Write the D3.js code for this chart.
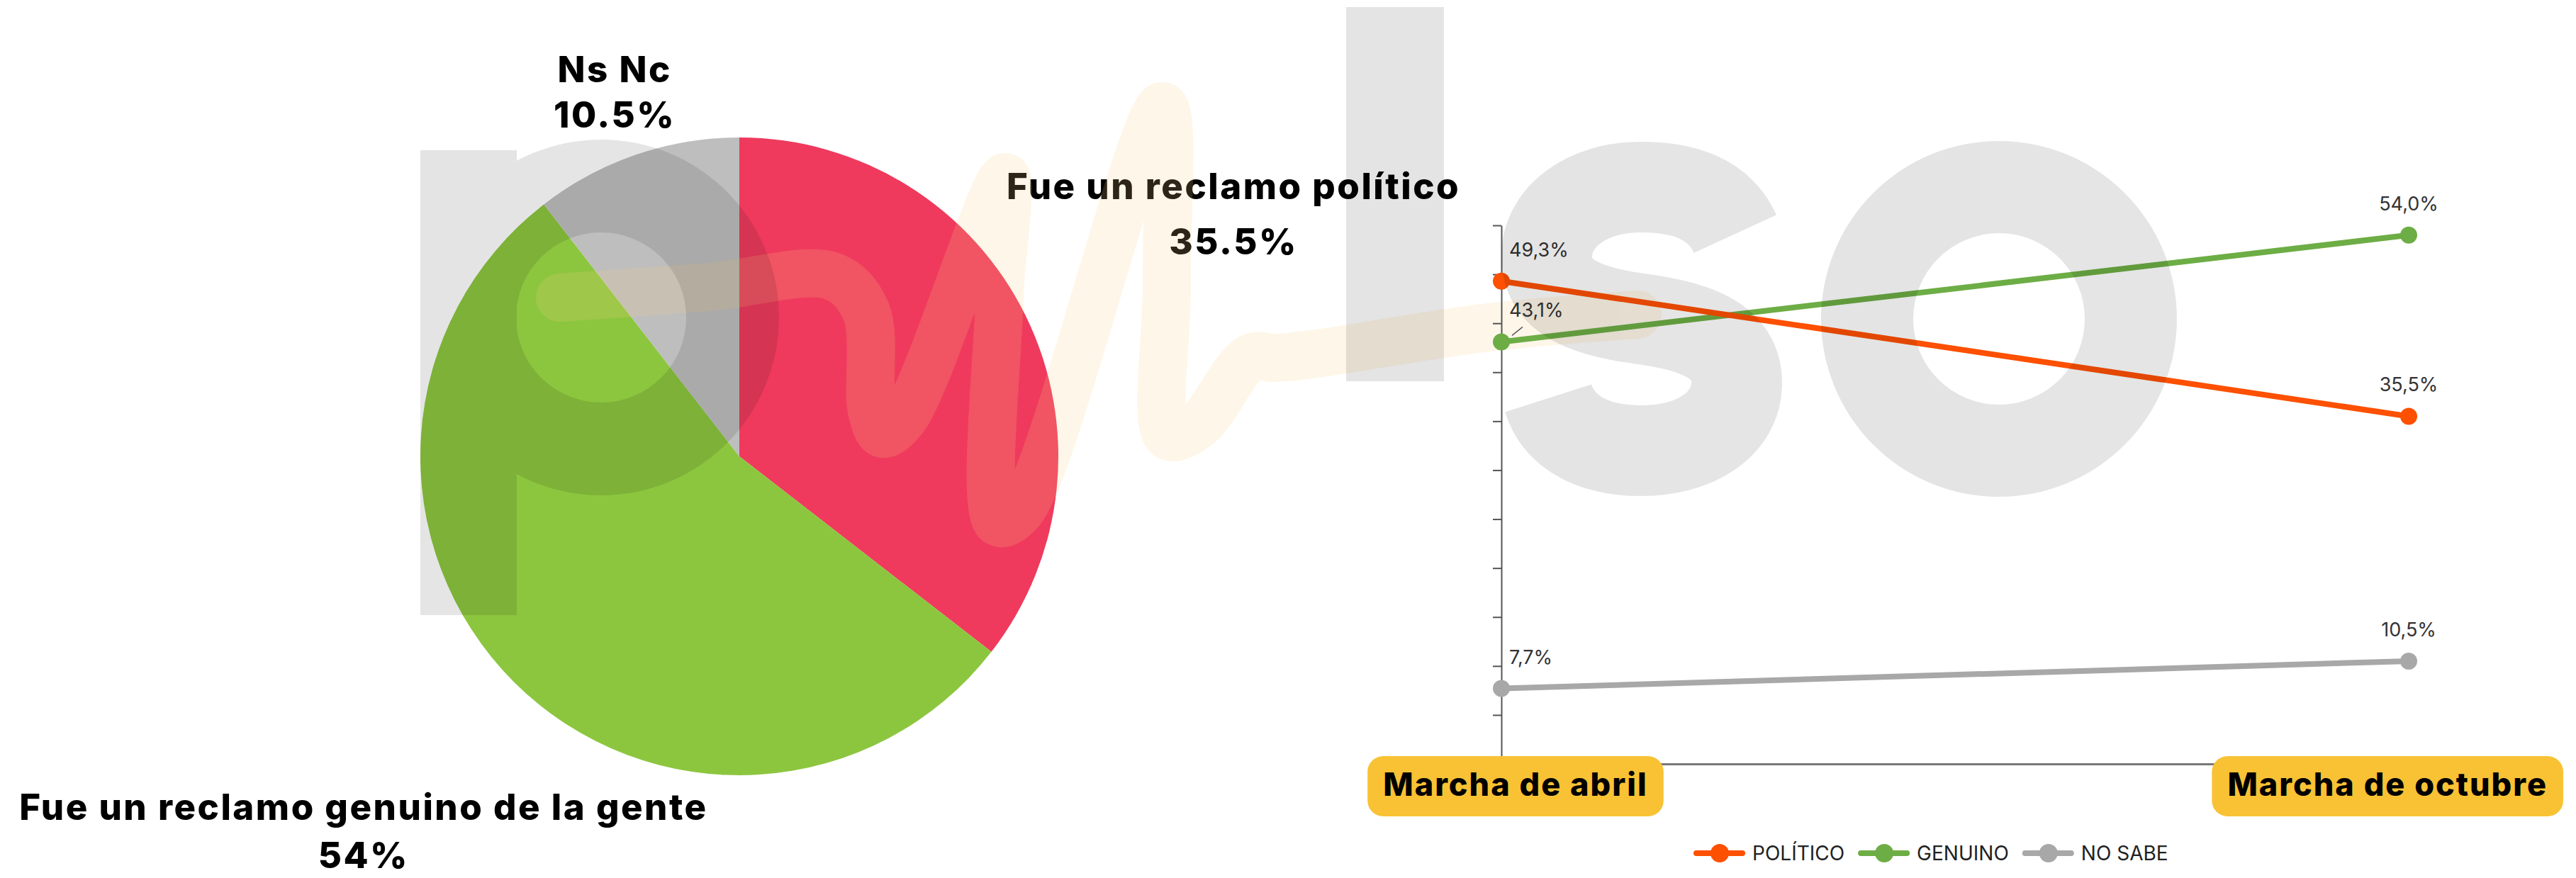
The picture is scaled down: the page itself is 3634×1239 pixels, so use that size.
<!DOCTYPE html>
<html>
<head>
<meta charset="utf-8">
<script src="https://cdn.jsdelivr.net/npm/d3@7"></script>
<style>
  html, body { margin: 0; padding: 0; background: #fff; }
  svg { display: block; }
</style>
</head>
<body>
<div id="chart"></div>
<script>
// pie: how people saw the october march
var pieNames = ["Fue un reclamo político", "Fue un reclamo genuino de la gente", "Ns Nc"];
var pieValues = [35.5, 54, 10.5];
var pieColors = ["#ef3a5d", "#8cc63f", "#bebebe"];

// line chart: april vs october
var marchas = ["Marcha de abril", "Marcha de octubre"];
var seriesNames = ["POLÍTICO", "GENUINO", "NO SABE"];
var politico = [49.3, 35.5];
var genuino = [43.1, 54.0];
var noSabe = [7.7, 10.5];
var lineColors = ["#fd5000", "#6dad45", "#a8a8a8"];
var yTicks = [0, 5, 10, 15, 20, 25, 30, 35, 40, 45, 50, 55];

var W = 3634, H = 1239;
var boldFont = "Inter, 'Noto Sans', sans-serif";

var svg = d3.select("#chart").append("svg")
    .attr("width", W)
    .attr("height", H);
svg.append("rect").attr("width", W).attr("height", H).attr("fill", "#fff");

// ---- pie ----
var R = 450;
var pieG = svg.append("g").attr("transform", "translate(1043,644)");
var pie = d3.pie().sort(null).value(function (d) { return d; });
var arc = d3.arc().innerRadius(0).outerRadius(R);
var arcs = pie(pieValues);

pieG.selectAll("path.slice")
    .data(arcs)
    .enter().append("path")
    .attr("class", "slice")
    .attr("d", arc)
    .attr("fill", function (d, i) { return pieColors[i]; });

// scribble "u" of the logo (decoration, drawn over the pie)
var scribble = [[790,420],[1000,405],[1175,390],[1222,440],[1230,580],[1245,612],[1275,590],
    [1418,250],[1410,420],[1408,737],[1440,720],[1640,150],[1646,400],[1648,615],[1690,600],
    [1764,505],[1800,505],[1850,500],[2100,462],[2310,444]];
svg.append("path")
    .attr("d", d3.line().curve(d3.curveCatmullRom.alpha(0.5))(scribble))
    .attr("fill", "none")
    .attr("stroke", "#f8cc80")
    .attr("stroke-opacity", 0.18)
    .attr("stroke-width", 68)
    .attr("stroke-linecap", "round")
    .attr("stroke-linejoin", "round");

// outside labels along the slice mid angle
var labelDist = [1.725, 1.666, 1.206];
var labelGap = [78, 68, 64];
arcs.forEach(function (a, i) {
    var mid = (a.startAngle + a.endAngle) / 2;
    var cx = Math.sin(mid) * R * labelDist[i],
        cy = -Math.cos(mid) * R * labelDist[i];
    var t = pieG.append("text")
        .attr("text-anchor", "middle")
        .style("font-family", boldFont)
        .style("font-weight", 800)
        .style("font-size", "51px")
        .style("letter-spacing", "2.5px")
        .attr("fill", "#000");
    t.append("tspan").attr("x", cx).attr("y", cy + 17 - labelGap[i] / 2).text(pieNames[i]);
    t.append("tspan").attr("x", cx).attr("y", cy + 17 + labelGap[i] / 2).text(pieValues[i] + "%");
});

// ---- line chart ----
var x = d3.scalePoint().domain(marchas).range([2118, 3398]);
var y = d3.scaleLinear().domain([0, 55]).range([1078, 318]);
var lc = svg.append("g");

var yAxis = lc.append("g")
    .attr("transform", "translate(" + x(marchas[0]) + ",0)")
    .call(d3.axisLeft(y).tickValues(yTicks).tickFormat("").tickSize(12).tickSizeOuter(0));
yAxis.selectAll("path, line").attr("stroke", "#555").attr("stroke-width", 2);

var xAxis = lc.append("g")
    .attr("transform", "translate(0," + y(0) + ")")
    .call(d3.axisBottom(x).tickSize(0).tickFormat(""));
xAxis.select("path").attr("stroke", "#777").attr("stroke-width", 3);

var series = [politico, genuino, noSabe];
var line = d3.line()
    .x(function (d, i) { return x(marchas[i]); })
    .y(function (d) { return y(d); });
var fmt = function (v) { return v.toFixed(1).replace(".", ",") + "%"; };

[1, 2, 0].forEach(function (s) {
    var vals = series[s];
    lc.append("path")
        .datum(vals)
        .attr("d", line)
        .attr("fill", "none")
        .attr("stroke", lineColors[s])
        .attr("stroke-width", 8);
    lc.selectAll(null)
        .data(vals)
        .enter().append("circle")
        .attr("cx", function (d, i) { return x(marchas[i]); })
        .attr("cy", function (d) { return y(d); })
        .attr("r", 12)
        .attr("fill", lineColors[s]);
    lc.selectAll(null)
        .data(vals)
        .enter().append("text")
        .attr("x", function (d, i) { return i === 0 ? x(marchas[i]) + 11 : x(marchas[i]); })
        .attr("y", function (d) { return y(d) - 35; })
        .attr("text-anchor", function (d, i) { return i === 0 ? "start" : "middle"; })
        .style("font-family", "Inter, sans-serif")
        .style("font-size", "27px")
        .attr("fill", "#333")
        .text(fmt);
});
// small connector under the 43,1% label
lc.append("line")
    .attr("x1", x(marchas[0]) + 15).attr("y1", y(genuino[0]) - 9)
    .attr("x2", x(marchas[0]) + 30).attr("y2", y(genuino[0]) - 21)
    .attr("stroke", "#555").attr("stroke-width", 1.5);

// category labels in yellow boxes
marchas.forEach(function (m) {
    var g = lc.append("g");
    var t = g.append("text")
        .attr("text-anchor", "middle")
        .attr("y", 1123)
        .style("font-family", boldFont)
        .style("font-weight", 800)
        .style("font-size", "45px")
        .style("letter-spacing", "2px")
        .attr("fill", "#000")
        .text(m);
    var w = t.node().getComputedTextLength() + 44;
    var cx = Math.min(x(m) + 20, W - 18 - w / 2);
    t.attr("x", cx);
    g.insert("rect", "text")
        .attr("x", cx - w / 2).attr("y", 1067)
        .attr("width", w).attr("height", 85)
        .attr("rx", 22)
        .attr("fill", "#f8c234");
});

// legend
var lx = 2393, ly = 1204;
seriesNames.forEach(function (name, s) {
    var g = lc.append("g");
    g.append("line")
        .attr("x1", lx).attr("x2", lx + 65)
        .attr("y1", ly).attr("y2", ly)
        .attr("stroke", lineColors[s]).attr("stroke-width", 8).attr("stroke-linecap", "round");
    g.append("circle").attr("cx", lx + 33).attr("cy", ly).attr("r", 13).attr("fill", lineColors[s]);
    var t = g.append("text")
        .attr("x", lx + 79).attr("y", ly + 10)
        .style("font-family", "Inter, sans-serif")
        .style("font-size", "28px")
        .attr("fill", "#222")
        .text(name);
    lx += 79 + t.node().getComputedTextLength() + 23;
});

// ---- watermark "p l s o" on top, 10% black ----
var wm = svg.append("g").attr("opacity", 0.1).attr("fill", "#000");
function ring(cx, cy, ro, ri) {
    return "M" + (cx - ro) + "," + cy + "a" + ro + "," + ro + " 0 1,0 " + (2 * ro) + ",0a" + ro + "," + ro + " 0 1,0 " + (-2 * ro) + ",0Z" +
           "M" + (cx - ri) + "," + cy + "a" + ri + "," + ri + " 0 1,0 " + (2 * ri) + ",0a" + ri + "," + ri + " 0 1,0 " + (-2 * ri) + ",0Z";
}
wm.append("rect").attr("x", 593).attr("y", 212).attr("width", 136).attr("height", 656);
wm.append("path").attr("fill-rule", "evenodd").attr("d", ring(848, 448, 251, 120));
wm.append("rect").attr("x", 1899).attr("y", 10).attr("width", 138).attr("height", 528);
wm.append("path")
    .attr("fill", "none").attr("stroke", "#000").attr("stroke-width", 128)
    .attr("d", "M2448,330C2425,280 2375,264 2315,264C2240,264 2182,305 2182,362C2182,420 2240,440 2315,450C2390,460 2450,480 2450,540C2450,600 2390,636 2315,636C2250,636 2200,612 2184,562");
wm.append("path").attr("fill-rule", "evenodd").attr("d", ring(2820, 450, 251, 121));
</script>
</body>
</html>
